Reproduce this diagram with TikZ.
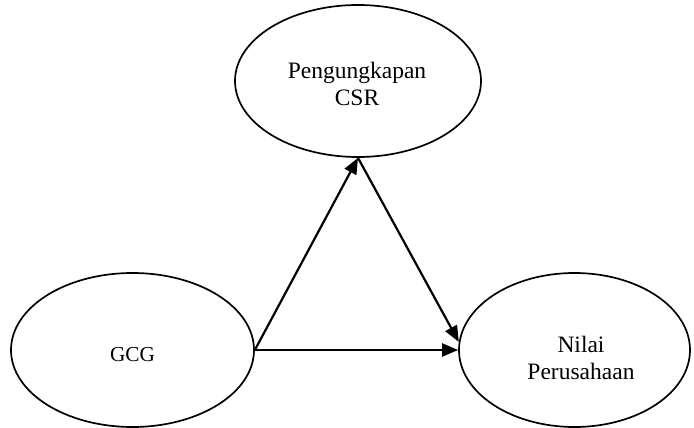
\documentclass[tikz,border=0pt]{standalone}
\usepackage{fontspec}
\setmainfont{Liberation Serif}
\usetikzlibrary{shapes.geometric,arrows.meta}
\begin{document}
\begin{tikzpicture}[x=1pt,y=-1pt,
  varbox/.style={draw=black,line width=1.7pt,ellipse,inner sep=0pt},
  varname/.style={inner sep=0pt,align=center,
    font=\fontsize{23.5}{26.5}\selectfont},
  link/.style={draw=black,line width=2.2pt,-{Triangle[length=16pt,width=13pt]}}]
  \useasboundingbox (0,0) rectangle (694,428);
  % the three variables
  \node[varbox,minimum width=246pt,minimum height=152pt] (csr) at (358,81) {};
  \node[varbox,minimum width=243pt,minimum height=154pt] (gcg) at (132.5,350) {};
  \node[varbox,minimum width=231pt,minimum height=154pt] (nilai) at (574.5,350) {};
  \node[varname] (csrText) at (357,84) {Pengungkapan\\CSR};
  \node[varname,font=\fontsize{21.3}{25}\selectfont] (gcgText) at (132.5,355) {GCG};
  \node[varname] (nilaiText) at (581,358) {Nilai\\Perusahaan};
  % relations between them
  \draw[link] (gcg.east) -- (nilai.west);
  \draw[link] (gcg.east) -- (csr.south);
  \draw[link] (csr.south) -- (nilai.176);
\end{tikzpicture}
\end{document}
